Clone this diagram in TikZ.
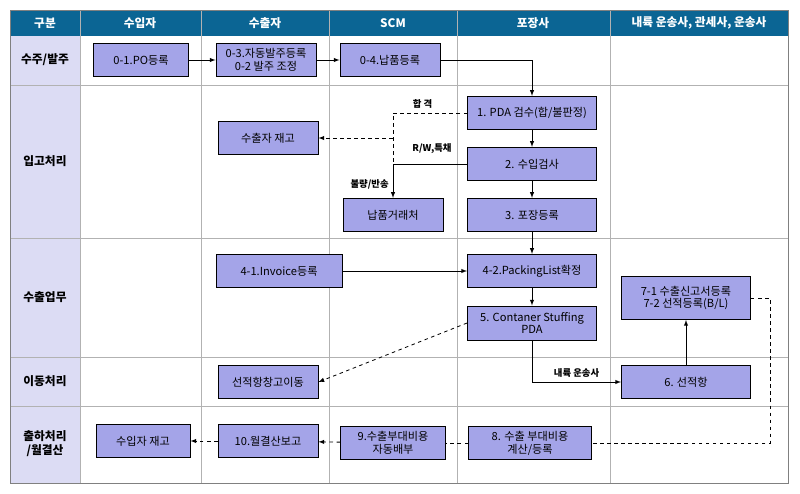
\documentclass[tikz,border=0pt]{standalone}
\usepackage{fontspec}
\setmainfont{Noto Sans CJK KR}
\usetikzlibrary{arrows,calc}
\definecolor{headblue}{HTML}{0B6594}
\definecolor{sidelav}{HTML}{DCDCF4}
\definecolor{boxlav}{HTML}{A4A4E8}
\tikzstyle{stepbox}=[draw, fill=boxlav, line width=0.8pt, minimum height=1.0cm, align=center, font=\fontsize{9.5}{11}\selectfont, inner sep=1pt]
\tikzstyle{edge}=[>=latex, line width=0.7pt]
\tikzstyle{dedge}=[>=latex, line width=0.7pt, dashed]
\tikzstyle{lbl}=[font=\bfseries\fontsize{8}{9}\selectfont]
\begin{document}
\begin{tikzpicture}[x=0.03cm,y=-0.03cm]
    \useasboundingbox (0,0) rectangle (800,493);
    %%%%%  Tabla  %%%%%
    \fill[sidelav] (10,36) rectangle (80,483);
    \fill[headblue] (10,10) rectangle (788,36);
    \foreach \x in {80,201,329,457,610} \draw[gray!60, line width=0.5pt] (\x,10) -- (\x,483);
    \foreach \y in {85,238,357,406} \draw[gray!60, line width=0.5pt] (10,\y) -- (788,\y);
    \draw[gray, line width=0.8pt] (10,10) rectangle (788,483);
    \foreach \x/\t in {45/구분,140/수입자,265/수출자,393/SCM,533/포장사,699/{내륙 운송사, 관세사, 운송사}}
      \node[text=white, font=\bfseries\fontsize{10}{12}\selectfont] at (\x,23) {\t};
    \foreach \y/\t in {60/{수주/발주},161/입고처리,297/수출업무,381/이동처리,444/{출하처리\\/월결산}}
      \node[align=center, font=\bfseries\fontsize{10}{12}\selectfont] at (45,\y) {\t};

    %%%%%  Cajas  %%%%%
    \node (po)  [stepbox, minimum width=2.85cm] at (141,60) {0-1.PO등록};
    \node (ord) [stepbox, minimum width=3cm] at (266,60) {0-3.자동발주등록\\0-2 발주 조정};
    \node (dlv) [stepbox, minimum width=3cm] at (390,60) {0-4.납품등록};
    \node (pda) [stepbox, minimum width=3.87cm] at (532,113) {1. PDA 검수(합/불판정)};
    \node (stk) [stepbox, minimum width=3cm] at (268,138) {수출자 재고};
    \node (chk) [stepbox, minimum width=3.87cm] at (532,164) {2. 수입검사};
    \node (ven) [stepbox, minimum width=3cm] at (393,215) {납품거래처};
    \node (pak) [stepbox, minimum width=3.87cm] at (532,215) {3. 포장등록};
    \node (inv) [stepbox, minimum width=3.78cm] at (279,271) {4-1.Invoice등록};
    \node (pkl) [stepbox, minimum width=3.87cm] at (532,271) {4-2.PackingList확정};
    \node (stf) [stepbox, minimum width=3.87cm, minimum height=1.02cm] at (532,323) {5. Contaner Stuffing\\PDA};
    \node (dcl) [stepbox, minimum width=3.87cm, minimum height=1.29cm] at (686,298) {7-1 수출신고서등록\\7-2 선적등록(B/L)};
    \node (prt) [stepbox, minimum width=3.87cm] at (686,382) {6. 선적항};
    \node (mov) [stepbox, minimum width=3cm] at (268,382) {선적항창고이동};
    \node (imp) [stepbox, minimum width=2.82cm] at (143,441) {수입자 재고};
    \node (mon) [stepbox, minimum width=3cm] at (268,441) {10.월결산보고};
    \node (alc) [stepbox, minimum width=3.15cm] at (393,443) {9.수출부대비용\\자동배부};
    \node (cst) [stepbox, minimum width=3.69cm] at (530,443) {8. 수출 부대비용\\계산/등록};

    %%%%%  Flechas  %%%%%
    \draw[edge,->] (po) -- (ord);
    \draw[edge,->] (ord) -- (dlv);
    \draw[edge,->] (dlv.east) -| (pda.north);
    \draw[edge,->] (pda) -- (chk);
    \draw[edge,->] (chk) -- (pak);
    \draw[edge,->] (pak) -- (pkl);
    \draw[edge,->] (inv) -- (pkl);
    \draw[edge,->] (pkl) -- (stf);
    \draw[edge,->] (chk.west) -| (ven.north) node[lbl, pos=0.8, left] {불량/반송};
    \draw[edge,->] (stf.south) |- node[lbl, pos=0.75, above] {내륙 운송사} (prt.west);
    \draw[edge,->] (prt) -- (dcl);
    \coordinate (sp) at (393,138);
    \draw[dedge] (pda.west) -- (393,113) node[lbl, pos=0.6, above] {합 격} -- (393,164) -- (chk.west);
    \node[lbl, above] at (432,158) {R/W,특채};
    \draw[dedge,->] (sp) -- (stk);
    \draw[dedge,->] (stf.west) -- (mov.east);
    \draw[dedge] (dcl.east) -- (770,298) -- (770,443) -- (cst.east);
    \draw[dedge] (cst) -- (alc);
    \draw[dedge,->] (alc) -- (mon);
    \draw[dedge,->] (mon) -- (imp);
\end{tikzpicture}
\end{document}
